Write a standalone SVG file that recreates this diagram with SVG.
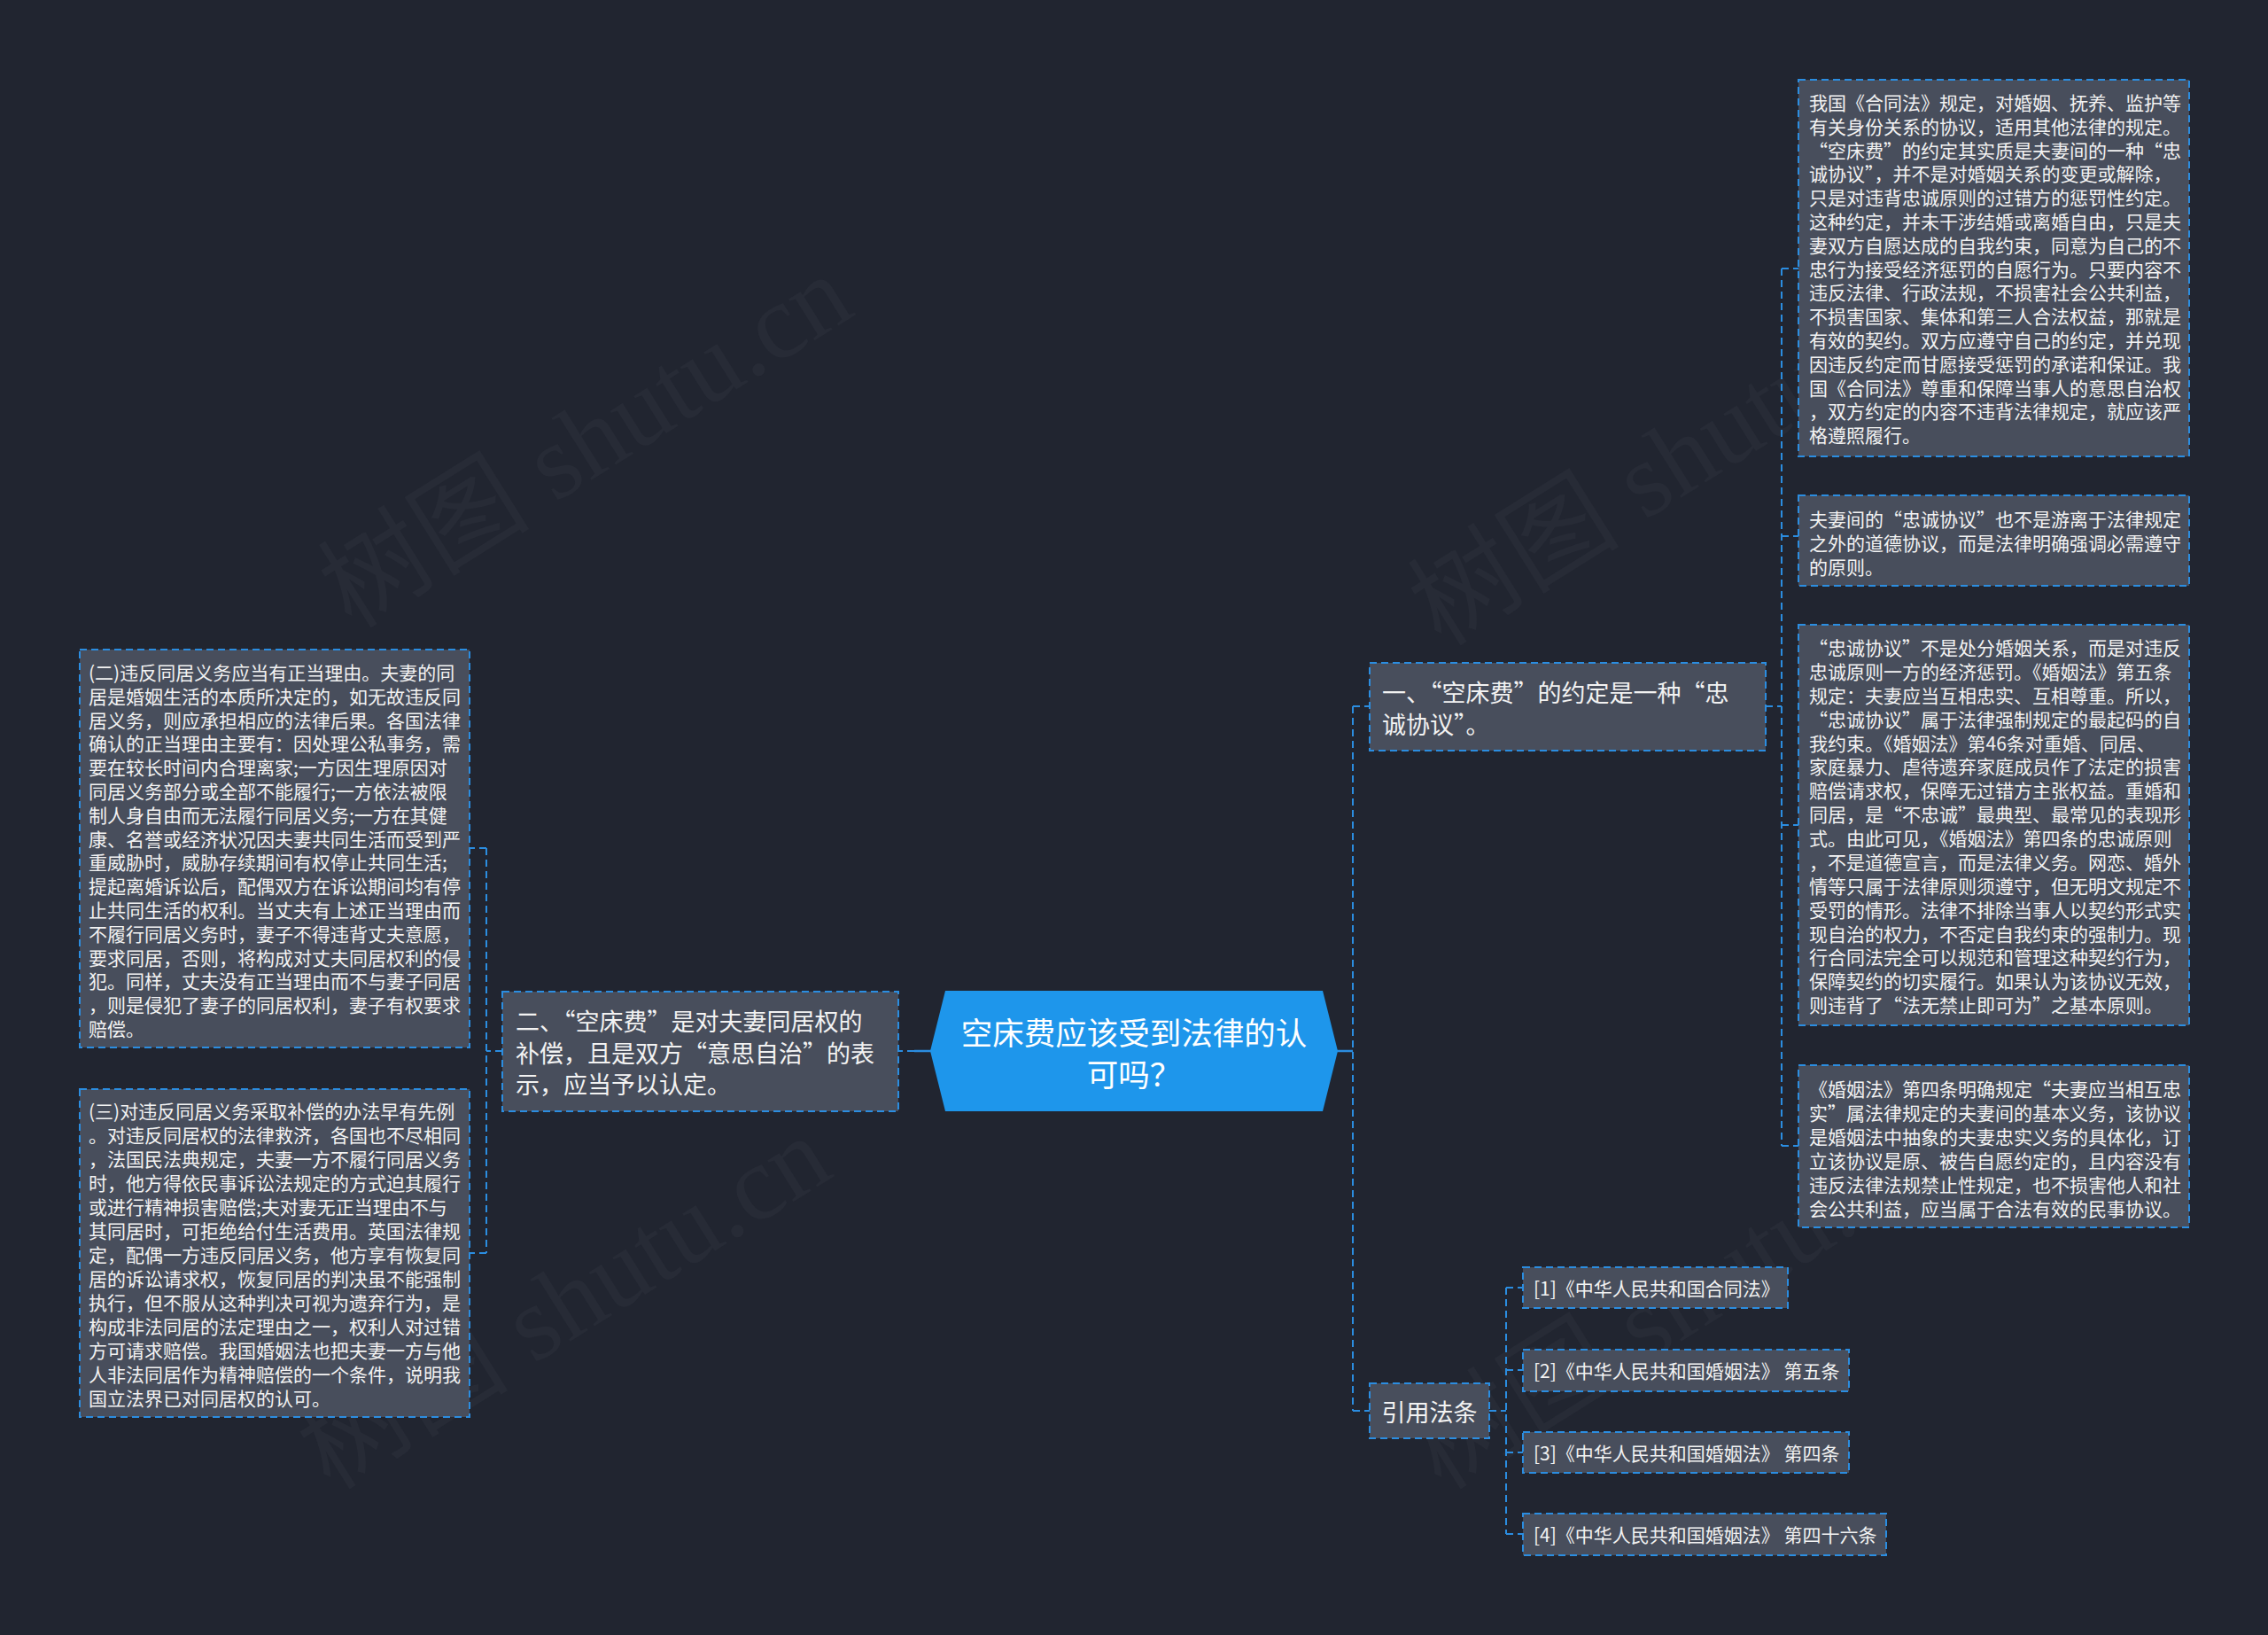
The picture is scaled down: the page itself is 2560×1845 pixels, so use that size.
<svg xmlns="http://www.w3.org/2000/svg" width="2560" height="1845" viewBox="0 0 2560 1845">
<style>
.bg{fill:#212530}
.wm{fill:#272b36;font-family:"Liberation Serif","Noto Sans CJK SC",serif;font-size:120px}
.box{fill:#484e5c;stroke:#2b8de0;stroke-width:2;stroke-dasharray:8 5}
.t{font-family:"Noto Sans CJK SC","Noto Sans",sans-serif;fill:#f2f2f2;font-size:21px;dominant-baseline:central}
.tb{font-size:27px}
.tr{font-size:27px;text-anchor:middle}
.tc{font-size:35.5px;fill:#ffffff;text-anchor:middle}
.dash{stroke:#2b8de0;stroke-width:2;fill:none;stroke-dasharray:8 5}
.solid{stroke:#2b8de0;stroke-width:2.5;fill:none}
</style>
<rect class="bg" x="0" y="0" width="2560" height="1845"/>
<g id="watermarks">
<text class="wm" transform="translate(661,498) rotate(-32)" text-anchor="middle" dominant-baseline="central">树图 shutu.cn</text>
<text class="wm" transform="translate(1891,518) rotate(-32)" text-anchor="middle" dominant-baseline="central">树图 shutu.cn</text>
<text class="wm" transform="translate(637,1470) rotate(-32)" text-anchor="middle" dominant-baseline="central">树图 shutu.cn</text>
<text class="wm" transform="translate(1891,1470) rotate(-32)" text-anchor="middle" dominant-baseline="central">树图 shutu.cn</text>
</g>
<g id="connectors">
<line class="solid" x1="1509" y1="1186" x2="1527" y2="1186"/>
<line class="dash" x1="1527" y1="797" x2="1527" y2="1592"/>
<line class="dash" x1="1527" y1="797" x2="1546" y2="797"/>
<line class="dash" x1="1527" y1="1592" x2="1546" y2="1592"/>
<line class="dash" x1="1993" y1="797" x2="2011" y2="797"/>
<line class="dash" x1="2011" y1="303" x2="2011" y2="1293"/>
<line class="dash" x1="2011" y1="303" x2="2030" y2="303"/>
<line class="dash" x1="2011" y1="605" x2="2030" y2="605"/>
<line class="dash" x1="2011" y1="931" x2="2030" y2="931"/>
<line class="dash" x1="2011" y1="1293" x2="2030" y2="1293"/>
<line class="dash" x1="1681" y1="1592" x2="1700" y2="1592"/>
<line class="dash" x1="1700" y1="1453" x2="1700" y2="1731"/>
<line class="dash" x1="1700" y1="1453" x2="1719" y2="1453"/>
<line class="dash" x1="1700" y1="1546" x2="1719" y2="1546"/>
<line class="dash" x1="1700" y1="1639" x2="1719" y2="1639"/>
<line class="dash" x1="1700" y1="1731" x2="1719" y2="1731"/>
<line class="solid" x1="1051" y1="1186" x2="1032" y2="1186"/>
<line class="dash" x1="1032" y1="1186" x2="1014" y2="1186"/>
<line class="dash" x1="567" y1="1186" x2="549" y2="1186"/>
<line class="dash" x1="549" y1="957" x2="549" y2="1414"/>
<line class="dash" x1="549" y1="957" x2="530" y2="957"/>
<line class="dash" x1="549" y1="1414" x2="530" y2="1414"/>
</g>
<g id="center">
<polygon points="1050,1186 1067,1118 1493,1118 1510,1186 1493,1254 1067,1254" fill="#1e96eb"/>
<text class="t tc"><tspan x="1280" y="1162.5">空床费应该受到法律的认</tspan><tspan x="1280" y="1210">可吗？</tspan></text>
</g>
<g id="branch1">
<rect class="box" x="1546" y="748" width="447" height="99"/>
<text class="t tb"><tspan x="1560" y="780">一、“空床费”的约定是一种“忠</tspan><tspan x="1560" y="815.5">诚协议”。</tspan></text>
</g>
<g id="detailA">
<rect class="box" x="2030" y="90" width="441" height="425"/>
<text class="t">
<tspan x="2042" y="115">我国《合同法》规定，对婚姻、抚养、监护等</tspan>
<tspan x="2042" y="141.8">有关身份关系的协议，适用其他法律的规定。</tspan>
<tspan x="2042" y="168.6">“空床费”的约定其实质是夫妻间的一种“忠</tspan>
<tspan x="2042" y="195.4">诚协议”，并不是对婚姻关系的变更或解除，</tspan>
<tspan x="2042" y="222.2">只是对违背忠诚原则的过错方的惩罚性约定。</tspan>
<tspan x="2042" y="249">这种约定，并未干涉结婚或离婚自由，只是夫</tspan>
<tspan x="2042" y="275.8">妻双方自愿达成的自我约束，同意为自己的不</tspan>
<tspan x="2042" y="302.6">忠行为接受经济惩罚的自愿行为。只要内容不</tspan>
<tspan x="2042" y="329.4">违反法律、行政法规，不损害社会公共利益，</tspan>
<tspan x="2042" y="356.2">不损害国家、集体和第三人合法权益，那就是</tspan>
<tspan x="2042" y="383">有效的契约。双方应遵守自己的约定，并兑现</tspan>
<tspan x="2042" y="409.8">因违反约定而甘愿接受惩罚的承诺和保证。我</tspan>
<tspan x="2042" y="436.6">国《合同法》尊重和保障当事人的意思自治权</tspan>
<tspan x="2042" y="463.4">，双方约定的内容不违背法律规定，就应该严</tspan>
<tspan x="2042" y="490.2">格遵照履行。</tspan>
</text>
</g>
<g id="detailB">
<rect class="box" x="2030" y="559" width="441" height="102"/>
<text class="t">
<tspan x="2042" y="585">夫妻间的“忠诚协议”也不是游离于法律规定</tspan>
<tspan x="2042" y="612">之外的道德协议，而是法律明确强调必需遵守</tspan>
<tspan x="2042" y="639">的原则。</tspan>
</text>
</g>
<g id="detailC">
<rect class="box" x="2030" y="705" width="441" height="452"/>
<text class="t">
<tspan x="2042" y="730">“忠诚协议”不是处分婚姻关系，而是对违反</tspan>
<tspan x="2042" y="756.9">忠诚原则一方的经济惩罚。《婚姻法》第五条</tspan>
<tspan x="2042" y="783.7">规定：夫妻应当互相忠实、互相尊重。所以，</tspan>
<tspan x="2042" y="810.6">“忠诚协议”属于法律强制规定的最起码的自</tspan>
<tspan x="2042" y="837.5">我约束。《婚姻法》第46条对重婚、同居、</tspan>
<tspan x="2042" y="864.4">家庭暴力、虐待遗弃家庭成员作了法定的损害</tspan>
<tspan x="2042" y="891.2">赔偿请求权，保障无过错方主张权益。重婚和</tspan>
<tspan x="2042" y="918.1">同居，是“不忠诚”最典型、最常见的表现形</tspan>
<tspan x="2042" y="945">式。由此可见，《婚姻法》第四条的忠诚原则</tspan>
<tspan x="2042" y="971.8">，不是道德宣言，而是法律义务。网恋、婚外</tspan>
<tspan x="2042" y="998.7">情等只属于法律原则须遵守，但无明文规定不</tspan>
<tspan x="2042" y="1025.6">受罚的情形。法律不排除当事人以契约形式实</tspan>
<tspan x="2042" y="1052.5">现自治的权力，不否定自我约束的强制力。现</tspan>
<tspan x="2042" y="1079.3">行合同法完全可以规范和管理这种契约行为，</tspan>
<tspan x="2042" y="1106.2">保障契约的切实履行。如果认为该协议无效，</tspan>
<tspan x="2042" y="1133">则违背了“法无禁止即可为”之基本原则。</tspan>
</text>
</g>
<g id="detailD">
<rect class="box" x="2030" y="1202" width="441" height="183"/>
<text class="t">
<tspan x="2042" y="1228">《婚姻法》第四条明确规定“夫妻应当相互忠</tspan>
<tspan x="2042" y="1255">实”属法律规定的夫妻间的基本义务，该协议</tspan>
<tspan x="2042" y="1282">是婚姻法中抽象的夫妻忠实义务的具体化，订</tspan>
<tspan x="2042" y="1309">立该协议是原、被告自愿约定的，且内容没有</tspan>
<tspan x="2042" y="1336">违反法律法规禁止性规定，也不损害他人和社</tspan>
<tspan x="2042" y="1363">会公共利益，应当属于合法有效的民事协议。</tspan>
</text>
</g>
<g id="branch2">
<rect class="box" x="567" y="1119" width="447" height="135"/>
<text class="t tb"><tspan x="582" y="1151">二、“空床费”是对夫妻同居权的</tspan><tspan x="582" y="1186.5">补偿，且是双方“意思自治”的表</tspan><tspan x="582" y="1222">示，应当予以认定。</tspan></text>
</g>
<g id="detailL1">
<rect class="box" x="90" y="733" width="440" height="449"/>
<text class="t">
<tspan x="100" y="758">(二)违反同居义务应当有正当理由。夫妻的同</tspan>
<tspan x="100" y="784.8">居是婚姻生活的本质所决定的，如无故违反同</tspan>
<tspan x="100" y="811.6">居义务，则应承担相应的法律后果。各国法律</tspan>
<tspan x="100" y="838.4">确认的正当理由主要有：因处理公私事务，需</tspan>
<tspan x="100" y="865.2">要在较长时间内合理离家;一方因生理原因对</tspan>
<tspan x="100" y="892">同居义务部分或全部不能履行;一方依法被限</tspan>
<tspan x="100" y="918.8">制人身自由而无法履行同居义务;一方在其健</tspan>
<tspan x="100" y="945.6">康、名誉或经济状况因夫妻共同生活而受到严</tspan>
<tspan x="100" y="972.4">重威胁时，威胁存续期间有权停止共同生活;</tspan>
<tspan x="100" y="999.2">提起离婚诉讼后，配偶双方在诉讼期间均有停</tspan>
<tspan x="100" y="1026">止共同生活的权利。当丈夫有上述正当理由而</tspan>
<tspan x="100" y="1052.8">不履行同居义务时，妻子不得违背丈夫意愿，</tspan>
<tspan x="100" y="1079.6">要求同居，否则，将构成对丈夫同居权利的侵</tspan>
<tspan x="100" y="1106.4">犯。同样，丈夫没有正当理由而不与妻子同居</tspan>
<tspan x="100" y="1133.2">，则是侵犯了妻子的同居权利，妻子有权要求</tspan>
<tspan x="100" y="1160">赔偿。</tspan>
</text>
</g>
<g id="detailL2">
<rect class="box" x="90" y="1229" width="440" height="370"/>
<text class="t">
<tspan x="100" y="1253">(三)对违反同居义务采取补偿的办法早有先例</tspan>
<tspan x="100" y="1280">。对违反同居权的法律救济，各国也不尽相同</tspan>
<tspan x="100" y="1307">，法国民法典规定，夫妻一方不履行同居义务</tspan>
<tspan x="100" y="1334">时，他方得依民事诉讼法规定的方式迫其履行</tspan>
<tspan x="100" y="1361">或进行精神损害赔偿;夫对妻无正当理由不与</tspan>
<tspan x="100" y="1388">其同居时，可拒绝给付生活费用。英国法律规</tspan>
<tspan x="100" y="1415">定，配偶一方违反同居义务，他方享有恢复同</tspan>
<tspan x="100" y="1442">居的诉讼请求权，恢复同居的判决虽不能强制</tspan>
<tspan x="100" y="1469">执行，但不服从这种判决可视为遗弃行为，是</tspan>
<tspan x="100" y="1496">构成非法同居的法定理由之一，权利人对过错</tspan>
<tspan x="100" y="1523">方可请求赔偿。我国婚姻法也把夫妻一方与他</tspan>
<tspan x="100" y="1550">人非法同居作为精神赔偿的一个条件，说明我</tspan>
<tspan x="100" y="1577">国立法界已对同居权的认可。</tspan>
</text>
</g>
<g id="refs">
<rect class="box" x="1546" y="1561" width="135" height="62"/>
<text class="t tr" x="1613.5" y="1592">引用法条</text>
</g>
<g id="ref1">
<rect class="box" x="1719" y="1430" width="299" height="46"/>
<text class="t" x="1731" y="1453">[1]《中华人民共和国合同法》</text>
</g>
<g id="ref2">
<rect class="box" x="1719" y="1523" width="368" height="47"/>
<text class="t" x="1731" y="1546">[2]《中华人民共和国婚姻法》 第五条</text>
</g>
<g id="ref3">
<rect class="box" x="1719" y="1616" width="368" height="46"/>
<text class="t" x="1731" y="1639">[3]《中华人民共和国婚姻法》 第四条</text>
</g>
<g id="ref4">
<rect class="box" x="1719" y="1708" width="410" height="47"/>
<text class="t" x="1731" y="1731">[4]《中华人民共和国婚姻法》 第四十六条</text>
</g>
</svg>
